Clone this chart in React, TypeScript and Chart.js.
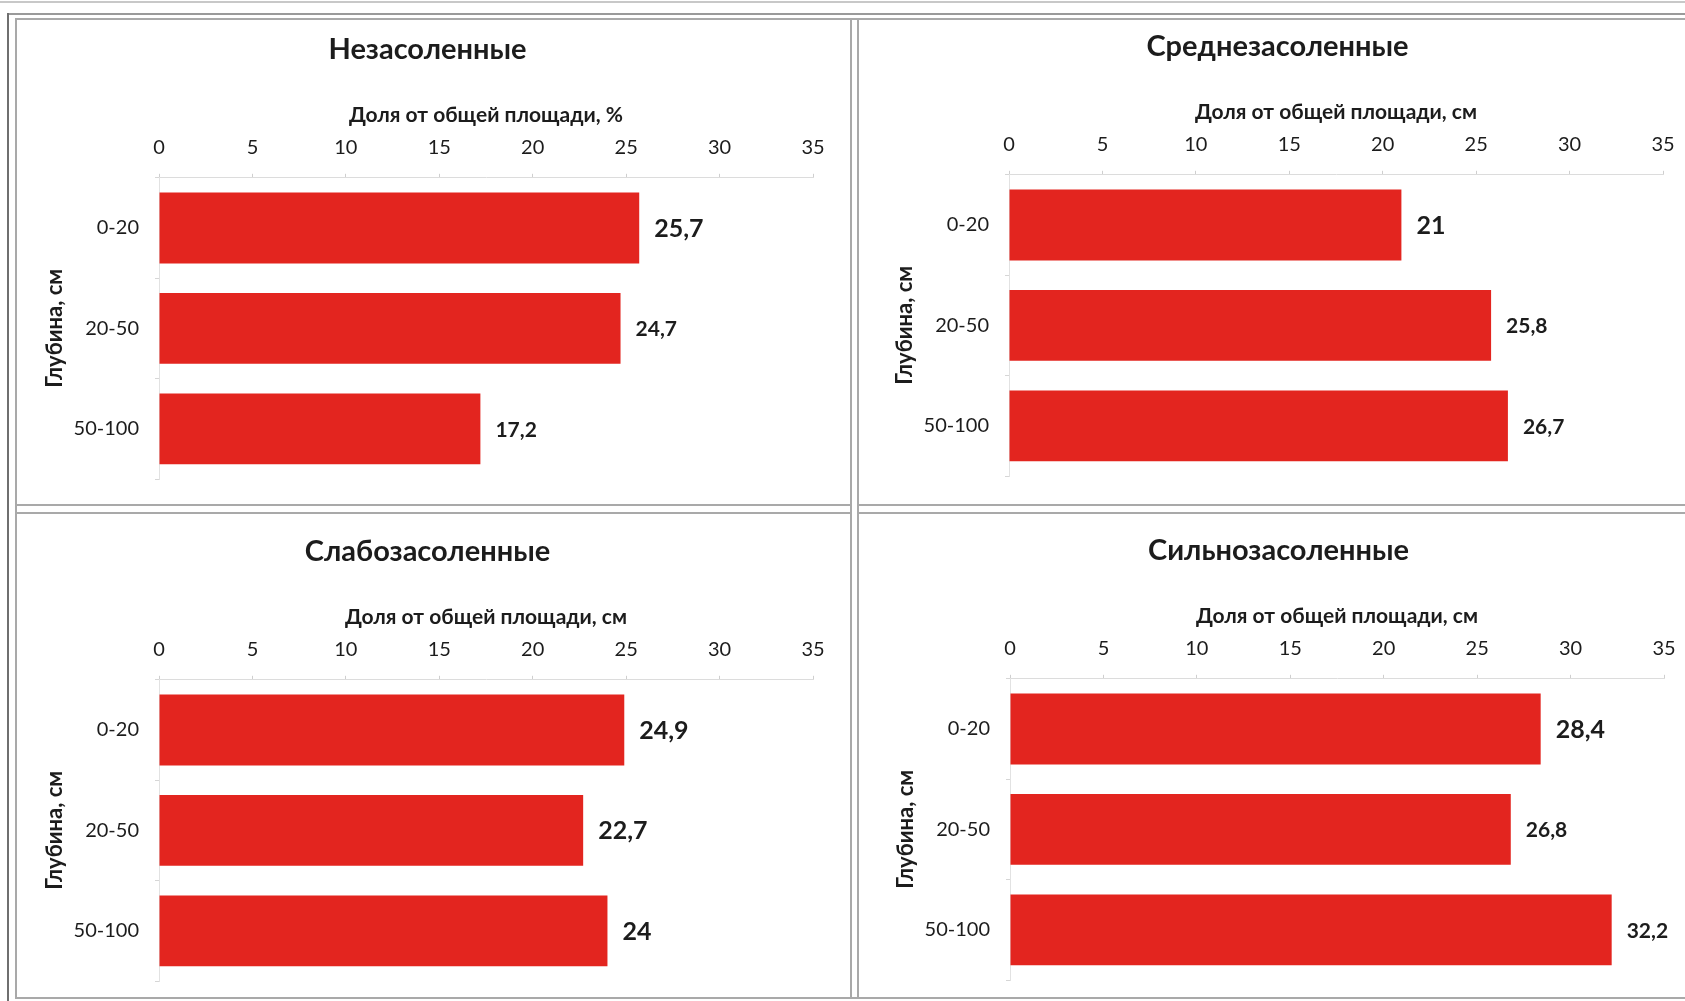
import React, { useEffect, useRef } from "react";
import { Chart, registerables } from "chart.js";

Chart.register(...registerables);

// Depth layers (category axis)
const depthLabels = ["0-20", "20-50", "50-100"];

// Share of total area per depth layer, by salinity class
const nonSaline = [25.7, 24.7, 17.2];
const mediumSaline = [21, 25.8, 26.7];
const slightlySaline = [24.9, 22.7, 24];
const stronglySaline = [28.4, 26.8, 32.2];

const panelTitles = ["Незасоленные", "Среднезасоленные", "Слабозасоленные", "Сильнозасоленные"];
const xAxisTitles = [
  "Доля от общей площади, %",
  "Доля от общей площади, см",
  "Доля от общей площади, см",
  "Доля от общей площади, см",
];
const yAxisTitle = "Глубина, см";

const xMin = 0;
const xMax = 35;
const xStep = 5;

const FONT = "Lato, 'Open Sans', 'Noto Sans', sans-serif";
const INK = "#1c1c1c";
const BAR = "#e3251f";

const CANVAS_W = 832;
const CANVAS_H = 488;

// Emphasised value labels get the larger type size
const emphasis = [
  [true, false, false],
  [true, false, false],
  [true, true, true],
  [true, false, false],
];

type PanelProps = {
  title: string;
  axisTitle: string;
  values: number[];
  emph: boolean[];
  left: number;
  top: number;
};

const valueLabels = {
  id: "valueLabels",
  afterDatasetsDraw(chart: any, _args: any, opts: any) {
    const ctx = chart.ctx;
    const meta = chart.getDatasetMeta(0);
    const data = chart.data.datasets[0].data as number[];
    ctx.save();
    ctx.fillStyle = INK;
    ctx.textAlign = "left";
    ctx.textBaseline = "middle";
    meta.data.forEach((bar: any, i: number) => {
      const big = opts.emph[i];
      ctx.font = `bold ${big ? 25 : 21}px ${FONT}`;
      const text = String(data[i]).replace(".", ",");
      ctx.fillText(text, bar.x + 15, bar.y + 1);
    });
    ctx.restore();
  },
};

function Panel({ title, axisTitle, values, emph, left, top }: PanelProps) {
  const ref = useRef<HTMLCanvasElement | null>(null);

  useEffect(() => {
    if (!ref.current) return;
    const chart = new Chart(ref.current, {
      type: "bar",
      data: {
        labels: depthLabels,
        datasets: [
          {
            data: values,
            backgroundColor: BAR,
            borderWidth: 0,
            barPercentage: 0.705,
            categoryPercentage: 1,
          },
        ],
      },
      options: {
        indexAxis: "y",
        responsive: false,
        animation: false,
        devicePixelRatio: 1,
        layout: { padding: { left: 25, right: 36, top: 0, bottom: 0 } },
        plugins: {
          legend: { display: false },
          tooltip: { enabled: false },
          title: {
            display: true,
            text: title,
            color: INK,
            font: { family: FONT, size: 29, weight: "bold" },
            padding: { top: 13, bottom: 36 },
          },
          valueLabels: { emph },
        } as any,
        scales: {
          x: {
            type: "linear",
            position: "top",
            min: xMin,
            max: xMax,
            afterFit: (s: any) => {
              s.height = 75;
            },
            ticks: {
              stepSize: xStep,
              color: INK,
              padding: 14,
              font: { family: FONT, size: 20 },
            },
            grid: { drawOnChartArea: false, drawTicks: true, tickLength: 4, color: "#cfcfcf" },
            border: { display: true, color: "#dcdcdc" },
            title: {
              display: true,
              text: axisTitle,
              color: INK,
              font: { family: FONT, size: 21, weight: "bold" },
              padding: { top: 0, bottom: 0 },
            },
          },
          y: {
            afterFit: (s: any) => {
              s.width = 117;
            },
            ticks: {
              color: INK,
              padding: 16,
              font: { family: FONT, size: 20 },
            },
            grid: { drawOnChartArea: false, drawTicks: true, tickLength: 4, color: "#d6d6d6" },
            border: { display: true, color: "#e2e2e2" },
            title: {
              display: true,
              text: yAxisTitle,
              color: INK,
              font: { family: FONT, size: 22, weight: "bold" },
              padding: { top: 0, bottom: 0 },
            },
          },
        },
      },
      plugins: [valueLabels],
    });
    return () => chart.destroy();
  }, [title, axisTitle, values, emph]);

  return (
    <canvas
      ref={ref}
      width={CANVAS_W}
      height={CANVAS_H}
      style={{ position: "absolute", left, top, width: CANVAS_W, height: CANVAS_H }}
    />
  );
}

const line = (l: number, t: number, w: number, h: number, c = "#a9a9a9") => (
  <div style={{ position: "absolute", left: l, top: t, width: w, height: h, background: c }} />
);

export default function App() {
  const series = [nonSaline, mediumSaline, slightlySaline, stronglySaline];
  const origins = [
    [17, 19],
    [867, 16],
    [17, 521],
    [868, 520],
  ];
  return (
    <div
      style={{
        position: "fixed",
        left: 0,
        top: 0,
        width: 1685,
        height: 1001,
        overflow: "hidden",
        background: "#ffffff",
      }}
    >
      {/* outer page frame */}
      {line(0, 1, 1685, 2, "#c8c8c8")}
      {line(7, 13, 1678, 2, "#9a9a9a")}
      {line(7, 13, 2, 988, "#6f6f6f")}
      {/* panel frames */}
      {line(15, 18, 2, 980)}
      {line(15, 18, 1670, 2)}
      {line(850, 18, 2, 980)}
      {line(857, 18, 2, 980)}
      {line(15, 504, 836, 2)}
      {line(857, 504, 828, 2)}
      {line(15, 512, 836, 2)}
      {line(857, 512, 828, 2)}
      {line(15, 997, 1670, 2)}
      {series.map((vals, i) => (
        <Panel
          key={i}
          title={panelTitles[i]}
          axisTitle={xAxisTitles[i]}
          values={vals}
          emph={emphasis[i]}
          left={origins[i][0]}
          top={origins[i][1]}
        />
      ))}
    </div>
  );
}
